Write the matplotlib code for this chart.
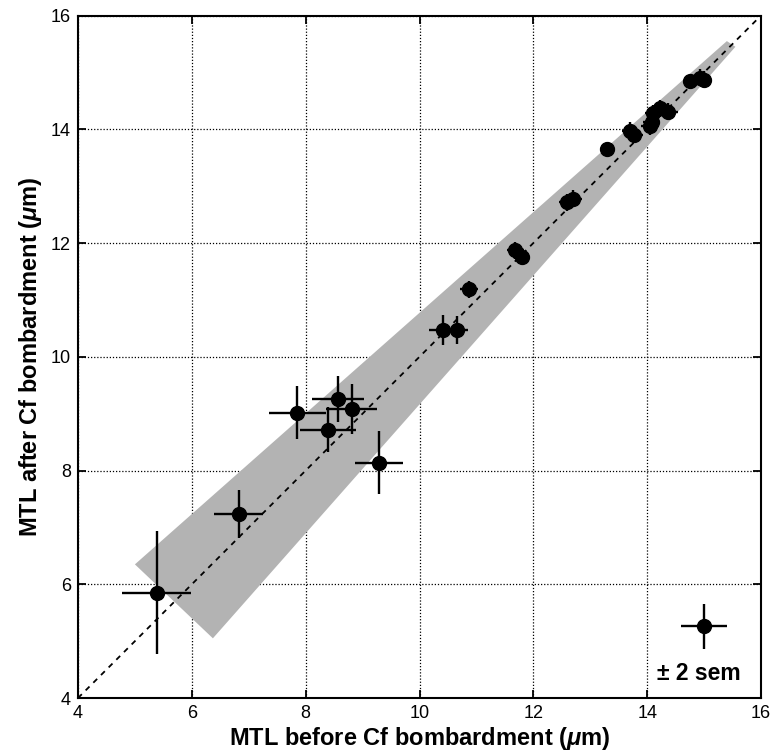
import matplotlib
matplotlib.use('Agg')
import matplotlib.pyplot as plt

plt.rcParams['font.family'] = ['Liberation Sans', 'DejaVu Sans']
plt.rcParams['mathtext.fontset'] = 'custom'
plt.rcParams['mathtext.rm'] = 'Liberation Sans:bold'
plt.rcParams['mathtext.it'] = 'Liberation Sans:bold:italic'

# MTL values (um)
mtl_before = [5.38, 6.82, 7.85, 8.57, 8.81, 8.39, 9.29, 10.42, 10.66, 10.87,
              11.68, 11.80, 12.60, 12.70, 13.29, 13.70, 13.77, 14.05, 14.08,
              14.11, 14.23, 14.37, 14.76, 14.93, 14.99]
mtl_after = [5.85, 7.24, 9.02, 9.26, 9.08, 8.72, 8.14, 10.47, 10.47, 11.19,
             11.87, 11.76, 12.72, 12.78, 13.65, 13.97, 13.90, 14.05, 14.13,
             14.28, 14.37, 14.31, 14.84, 14.91, 14.87]
err_before = [0.61, 0.43, 0.50, 0.46, 0.45, 0.49, 0.42, 0.26, 0.20, 0.15,
              0.15, 0.15, 0.15, 0.15, 0.12, 0.15, 0.15, 0.15, 0.15,
              0.15, 0.15, 0.18, 0.12, 0.15, 0.15]
err_after = [1.08, 0.42, 0.46, 0.41, 0.44, 0.40, 0.56, 0.26, 0.25, 0.15,
             0.15, 0.15, 0.15, 0.15, 0.12, 0.15, 0.15, 0.15, 0.15,
             0.15, 0.15, 0.15, 0.12, 0.15, 0.15]

# shaded band corners
band_x = [5.0, 15.4, 15.55, 6.37]
band_y = [6.35, 15.55, 15.45, 5.05]

# example error bar (+/- 2 sem)
ref_x, ref_y, ref_err = 15.0, 5.26, 0.40

ticks = [4, 6, 8, 10, 12, 14, 16]

fig = plt.figure(figsize=(7.73, 7.53), dpi=100)
ax = fig.add_axes([0.1009, 0.073, 0.8836, 0.9064])

ax.fill(band_x, band_y, color='#b3b3b3', lw=0, zorder=1)
ax.plot([4, 16], [4, 16], color='black', ls=(0, (3, 3)), lw=1.3, zorder=2)

ax.errorbar(mtl_before, mtl_after, xerr=err_before, yerr=err_after,
            fmt='o', color='black', ms=10, elinewidth=1.7, capsize=0, zorder=3)
ax.errorbar([ref_x], [ref_y], xerr=[ref_err], yerr=[ref_err],
            fmt='o', color='black', ms=10, elinewidth=1.7, capsize=0, zorder=3)
ax.text(14.9, 4.43, '± 2 sem', ha='center', va='center',
        fontsize=16.5, fontweight='bold')

ax.set_xlim(4, 16)
ax.set_ylim(4, 16)
ax.set_xticks(ticks)
ax.set_yticks(ticks)
ax.grid(True, color='black', ls=(0, (1, 1.5)), lw=0.9)
ax.set_axisbelow(True)
ax.tick_params(direction='in', length=6, width=1.3, top=True, right=True,
               labelsize=13, pad=5)
for s in ax.spines.values():
    s.set_linewidth(1.5)

ax.set_xlabel(r'MTL before Cf bombardment ($\mu$m)', fontsize=17,
              fontweight='bold', labelpad=2)
ax.set_ylabel(r'MTL after Cf bombardment ($\mu$m)', fontsize=17,
              fontweight='bold', labelpad=5)

fig.savefig('out.png', dpi=100)
